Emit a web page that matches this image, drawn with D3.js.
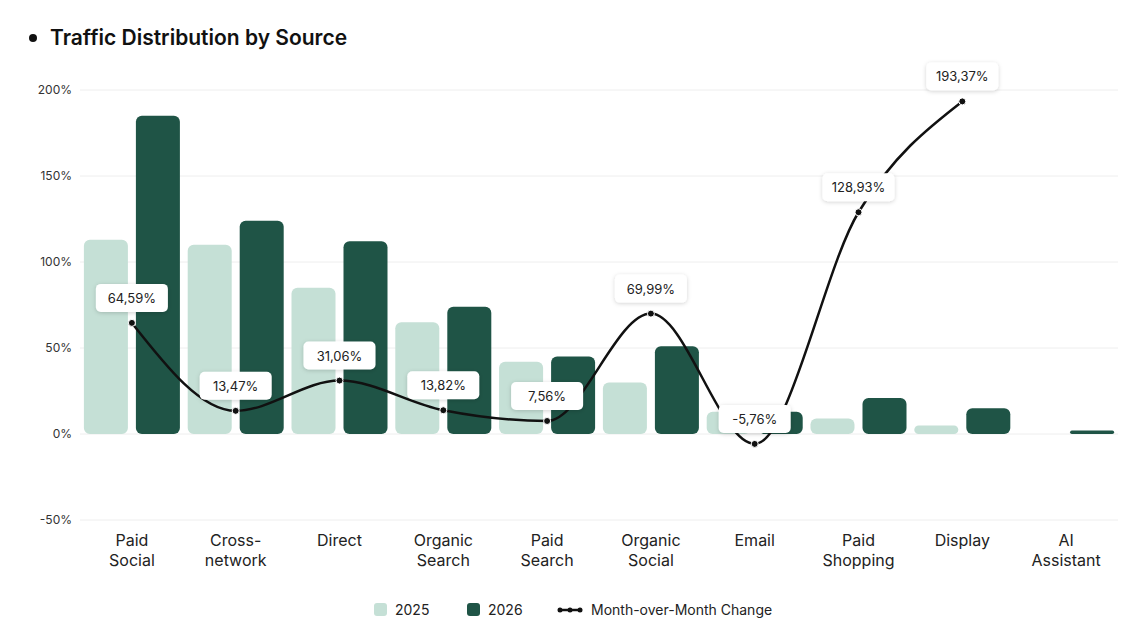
<!DOCTYPE html>
<html><head><meta charset="utf-8">
<script src="https://cdn.jsdelivr.net/npm/d3@7"></script>
<style>body{margin:0;background:#fff;font-family:Inter,"Noto Sans",sans-serif}</style>
</head><body>
<svg id="chart" width="1148" height="623"></svg>
<script>
const categories = [["Paid","Social"],["Cross-","network"],["Direct"],["Organic","Search"],["Paid","Search"],["Organic","Social"],["Email"],["Paid","Shopping"],["Display"],["AI","Assistant"]];
const values2025 = [113, 110, 85, 65, 42, 30, 13, 9, 5, 0];
const values2026 = [185, 124, 112, 74, 45, 51, 13, 21, 15, 2];
const momChange = [64.59, 13.47, 31.06, 13.82, 7.56, 69.99, -5.76, 128.93, 193.37, null];
const yTicks = [-50, 0, 50, 100, 150, 200];

const svg = d3.select('#chart');
const light = '#c5e0d6', dark = '#1f5446';

svg.append('circle').attr('cx', 33).attr('cy', 38).attr('r', 4).attr('fill', '#111');
svg.append('text').attr('x', 50).attr('y', 45).attr('font-size', 21).attr('font-weight', 600)
  .attr('fill', '#111').text('Traffic Distribution by Source');

const x = d3.scaleBand().domain(d3.range(categories.length)).range([80, 1118]);
const y = d3.scaleLinear().domain([-50, 200]).range([520, 90]);

svg.append('g').selectAll('line').data(yTicks).enter().append('line')
  .attr('x1', 80).attr('x2', 1118).attr('y1', d => y(d)).attr('y2', d => y(d))
  .attr('stroke', '#eeeeee');
svg.append('g').selectAll('text').data(yTicks).enter().append('text')
  .attr('x', 72).attr('y', d => y(d) + 4).attr('text-anchor', 'end')
  .attr('font-size', 12).attr('fill', '#333').text(d => d + '%');

const bw = 44, gap = 8;
const bar = (vals, off, color) => svg.append('g').selectAll('path').data(vals).enter().append('path')
  .attr('fill', color)
  .attr('d', (d, i) => {
    const cx = x(i) + x.bandwidth() / 2;
    const x0 = cx + off, h = y(0) - y(d), r = Math.min(6, h / 2, bw / 2);
    if (h <= 0) return '';
    const p = d3.path();
    p.moveTo(x0, y(0) - r); p.arcTo(x0, y(0), x0 + r, y(0), r);
    p.arcTo(x0 + bw, y(0), x0 + bw, y(0) - r, r);
    p.arcTo(x0 + bw, y(d), x0 + bw - r, y(d), r);
    p.arcTo(x0, y(d), x0, y(d) + r, r);
    p.closePath();
    return p.toString();
  });
bar(values2025, -bw - gap / 2, light);
bar(values2026, gap / 2, dark);

const pts = momChange.map((v, i) => ({ v, i })).filter(d => d.v !== null);
const line = d3.line().x(d => x(d.i) + x.bandwidth() / 2).y(d => y(d.v)).curve(d3.curveMonotoneX);
svg.append('path').attr('d', line(pts)).attr('fill', 'none').attr('stroke', '#111').attr('stroke-width', 2.5);
svg.append('g').selectAll('circle').data(pts).enter().append('circle')
  .attr('cx', d => x(d.i) + x.bandwidth() / 2).attr('cy', d => y(d.v)).attr('r', 3.5)
  .attr('fill', '#111').attr('stroke', '#fff').attr('stroke-width', 1);

const defs = svg.append('defs');
const f = defs.append('filter').attr('id', 'sh').attr('x', '-30%').attr('y', '-50%').attr('width', '160%').attr('height', '200%');
f.append('feDropShadow').attr('dx', 0).attr('dy', 1).attr('stdDeviation', 2).attr('flood-color', '#000').attr('flood-opacity', 0.18);

const fmt = v => v.toFixed(2).replace('.', ',') + '%';
const lab = svg.append('g').selectAll('g').data(pts).enter().append('g')
  .attr('transform', d => `translate(${x(d.i) + x.bandwidth() / 2},${y(d.v) - 25})`);
lab.append('rect').attr('x', -36).attr('y', -14).attr('width', 72).attr('height', 28).attr('rx', 5)
  .attr('fill', '#fff').attr('filter', 'url(#sh)');
lab.append('text').attr('text-anchor', 'middle').attr('y', 5).attr('font-size', 13).attr('fill', '#222').text(d => fmt(d.v));

svg.append('g').selectAll('text').data(categories).enter().append('text')
  .attr('text-anchor', 'middle').attr('font-size', 16).attr('fill', '#222')
  .each(function (d, i) {
    d.forEach((t, k) => d3.select(this).append('tspan')
      .attr('x', x(i) + x.bandwidth() / 2).attr('y', 546 + k * 20).text(t));
  });

const lg = svg.append('g').attr('font-size', 14).attr('fill', '#222');
lg.append('rect').attr('x', 374).attr('y', 603).attr('width', 13).attr('height', 13).attr('rx', 3).attr('fill', light);
lg.append('text').attr('x', 395).attr('y', 615).text('2025');
lg.append('rect').attr('x', 467).attr('y', 603).attr('width', 13).attr('height', 13).attr('rx', 3).attr('fill', dark);
lg.append('text').attr('x', 488).attr('y', 615).text('2026');
lg.append('line').attr('x1', 558).attr('x2', 582).attr('y1', 610).attr('y2', 610).attr('stroke', '#111').attr('stroke-width', 2.5);
[560, 570, 580].forEach(cx => lg.append('circle').attr('cx', cx).attr('cy', 610).attr('r', 2.5).attr('fill', '#111'));
lg.append('text').attr('x', 591).attr('y', 615).text('Month-over-Month Change');
</script>
</body></html>
